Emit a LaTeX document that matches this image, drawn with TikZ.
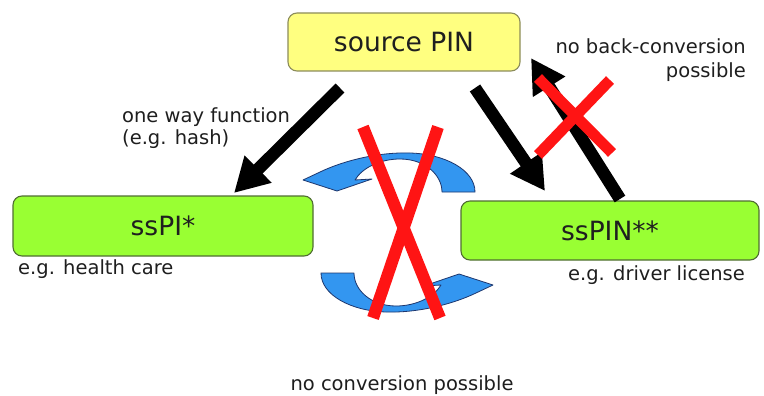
\documentclass[tikz,border=0pt]{standalone}
\usepackage{fontspec}
\setmainfont{DejaVu Sans}
\usetikzlibrary{arrows.meta}

\definecolor{pinyellow}{RGB}{255,255,128}
\definecolor{pinyellowline}{RGB}{140,140,90}
\definecolor{pingreen}{RGB}{153,255,51}
\definecolor{pingreenline}{RGB}{80,110,50}
\definecolor{turnblue}{RGB}{51,150,240}
\definecolor{turnblueline}{RGB}{30,55,110}
\definecolor{crossred}{RGB}{255,20,20}
\definecolor{labelgray}{RGB}{30,30,30}

\tikzset{
  pinbox/.style={draw, rounded corners=9pt, line width=1.1pt, inner sep=0pt,
    font=\fontsize{26.5}{30}\selectfont, text=black!88},
  bigarrow/.style={line width=12.5pt, black,
    -{Triangle[width=36pt,length=34pt]}},
  turnarrow/.style={fill=turnblue, draw=turnblueline, line width=0.8pt, line join=round},
  crossbar/.style={crossred, line width=12pt},
  note/.style={inner sep=0pt, text=labelgray, font=\fontsize{19.5}{22}\selectfont}
}

\begin{document}
\begin{tikzpicture}[x=1pt, y=-1pt]
  \useasboundingbox (0,0) rectangle (764,396);
  \fill[white] (0,0) rectangle (764,396);

  % identifier boxes
  \node[pinbox, fill=pinyellow, draw=pinyellowline,
        minimum width=232pt, minimum height=58pt] (src) at (404,42) {source PIN};
  \node[pinbox, fill=pingreen, draw=pingreenline,
        minimum width=300pt, minimum height=60pt] (sspi) at (163,226) {ssPI*};
  \node[pinbox, fill=pingreen, draw=pingreenline,
        minimum width=298pt, minimum height=59pt] (sspin) at (610,230.5) {ssPIN**};

  % arrow end points
  \coordinate (oneS) at (340,88);
  \coordinate (oneE) at (234,193);
  \coordinate (twoS) at (475,88);
  \coordinate (twoE) at (545,191);
  \coordinate (backS) at (620,199);
  \coordinate (backE) at (531,58);

  % one way derivations and the impossible back-conversion
  \draw[bigarrow] (oneS) -- (oneE);
  \draw[bigarrow] (twoS) -- (twoE);
  \draw[bigarrow] (backS) -- (backE);

  % curved conversion arrows between the two sector PINs
  \def\turnpath{(303,180) -- (320,172)
      .. controls (345,160) and (380,152) .. (410,153)
      .. controls (445,154) and (475,170) .. (475,192)
      -- (442,192)
      .. controls (442,175) and (425,159) .. (400,159)
      .. controls (380,159) and (362,168) .. (355,180)
      -- (372,179) -- (337,191) -- cycle}
  \draw[turnarrow] \turnpath;
  \begin{scope}[rotate around={180:(398,232.5)}]
    \draw[turnarrow] \turnpath;
  \end{scope}

  % crosses
  \draw[crossbar] (363,127) -- (440,318);
  \draw[crossbar] (438,127) -- (373,318);
  \draw[crossbar, line width=11pt] (538,78) -- (612,153);
  \draw[crossbar, line width=11pt] (610,80) -- (538,155);

  % labels
  \node[note, anchor=base west] (lblone) at (122,123) {one way function};
  \node[note, anchor=base west] (lblhash) at (122,145) {(e.g. hash)};
  \node[note, anchor=base east] (lblback) at (746,54) {no back-conversion};
  \node[note, anchor=base east] (lblposs) at (746,78) {possible};
  \node[note, anchor=base west] (lblhealth) at (18,274) {e.g. health care};
  \node[note, anchor=base east] (lbldriver) at (745,280) {e.g. driver license};
  \node[note, anchor=base] (lblnone) at (402,390) {no conversion possible};
\end{tikzpicture}
\end{document}
